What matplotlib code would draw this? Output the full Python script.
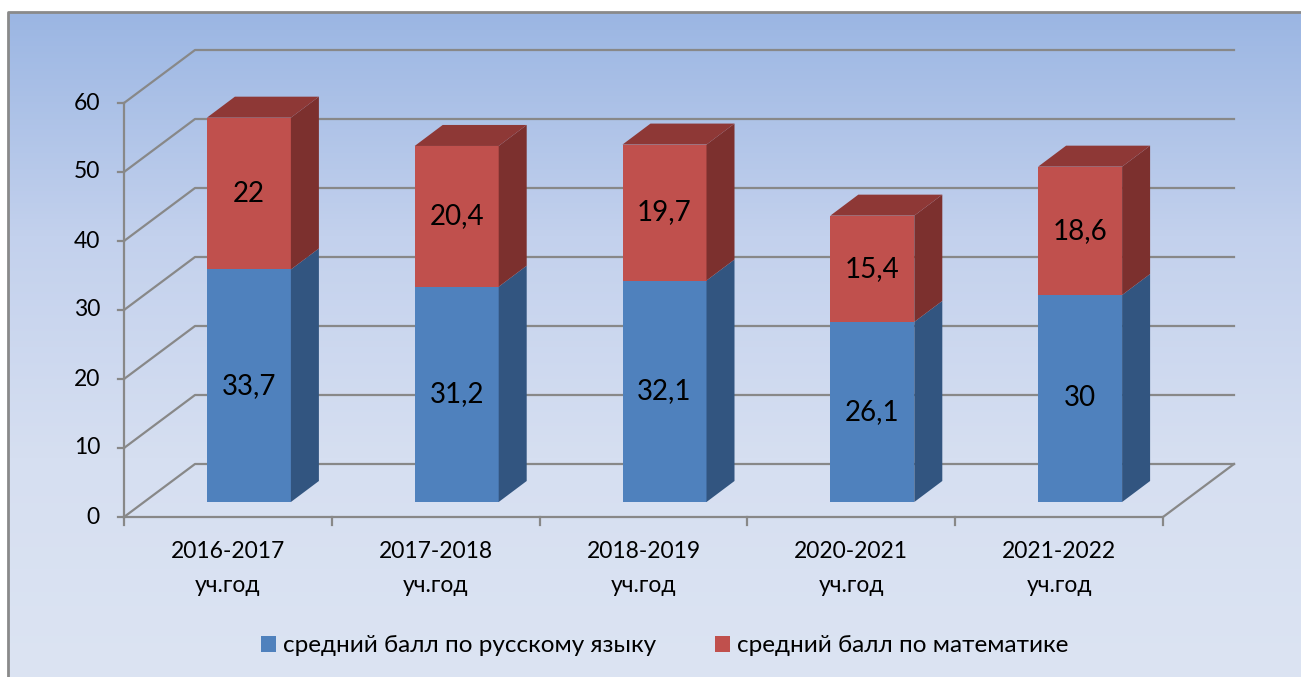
import numpy as np
import matplotlib.pyplot as plt
from matplotlib.patches import Polygon, Rectangle, Patch
from matplotlib.colors import LinearSegmentedColormap

plt.rcParams['font.family'] = ['Lato', 'DejaVu Sans']

years = ["2016-2017", "2017-2018", "2018-2019", "2020-2021", "2021-2022"]
russian = [33.7, 31.2, 32.1, 26.1, 30]
maths = [22, 20.4, 19.7, 15.4, 18.6]
yticks = [0, 10, 20, 30, 40, 50, 60]
series = ["средний балл по русскому языку", "средний балл по математике"]

# figure geometry in pixels
W, H = 1301, 677
X0, Y0 = 124, 517          # front corner of the value axis
CAT, UNIT = 207.8, 6.9      # px per category, px per value unit

fig = plt.figure(figsize=(W / 100, H / 100), dpi=100)
fig.patch.set_facecolor('white')
ax = fig.add_axes([0, 0, 1, 1])
ax.set_xlim(-X0 / CAT, (W - X0) / CAT)
ax.set_ylim(-(H - Y0) / UNIT, Y0 / UNIT)
ax.axis('off')


def px(x, y):
    return (x - X0) / CAT, (Y0 - y) / UNIT


# background box with gradient (dark at top)
cmap = LinearSegmentedColormap.from_list(
    'bg', ['#9bb6e3', '#c3d1ed', '#d6dff1', '#dce4f3'])
grad = np.linspace(0, 1, 256).reshape(-1, 1)
bx0, by0 = px(8, 12)
bx1, by1 = px(W + 5, H + 5)
ax.imshow(grad, cmap=cmap, extent=(bx0, bx1, by1, by0), aspect='auto', zorder=0)
ax.plot([bx0, bx0, bx1], [by1, by0, by0], color='#8a8a8a', lw=2, zorder=1)

# 3d depth
n = len(years)
DX, DY = 71 / CAT, 53 / UNIT
grid = '#888888'
glw = 1.6

for v in yticks:
    ax.plot([0, DX, n + DX], [v, v + DY, v + DY], color=grid, lw=glw, zorder=2)
    ax.plot([-6 / CAT, 0], [v, v], color=grid, lw=glw, zorder=2)
    ax.text(-24 / CAT, v, str(v), ha='right', va='center', fontsize=16.5, color='black')

# floor
ax.plot([0, n, n + DX], [0, 0, DY], color=grid, lw=glw, zorder=2)
ax.plot([0, 0], [0, yticks[-1]], color=grid, lw=glw, zorder=2)
for i in range(n + 1):
    ax.plot([i, i], [0, -8 / UNIT], color=grid, lw=glw, zorder=2)

# bars
FX, FY = 21 / CAT, 15 / UNIT
BX, BY = 28 / CAT, 21 / UNIT
BW = 84 / CAT
cols = [('#4f81bd', '#325580', '#3d6496'), ('#c0504d', '#7c302e', '#8e3836')]


def fmt(v):
    return ('%g' % v).replace('.', ',')


for i in range(n):
    xc = i + 0.5 + FX
    left, right = xc - BW / 2, xc + BW / 2
    y0 = FY
    vals = [russian[i], maths[i]]
    for k, v in enumerate(vals):
        y1 = y0 + v
        front, side, top = cols[k]
        ax.add_patch(Rectangle((left, y0), BW, v, facecolor=front, edgecolor='none', zorder=3))
        ax.add_patch(Polygon([(right, y0), (right + BX, y0 + BY), (right + BX, y1 + BY), (right, y1)],
                             facecolor=side, edgecolor='none', zorder=3))
        if k == len(vals) - 1:
            ax.add_patch(Polygon([(left, y1), (left + BX, y1 + BY), (right + BX, y1 + BY), (right, y1)],
                                 facecolor=top, edgecolor='none', zorder=3))
        ax.text(xc, y0 + v / 2, fmt(v), ha='center', va='center', fontsize=20, color='black', zorder=4)
        y0 = y1

    ax.text(i + 0.5, -35 / UNIT, years[i], ha='center', va='center', fontsize=16.5)
    ax.text(i + 0.5, -68 / UNIT, "уч.год", ha='center', va='center', fontsize=16.5)

handles = [Patch(facecolor=cols[0][0]), Patch(facecolor=cols[1][0])]
fig.legend(handles, series, loc='center', bbox_to_anchor=(0.511, 1 - 646 / H), ncol=2,
           frameon=False, fontsize=17.5, handlelength=0.62, handleheight=0.62,
           handletextpad=0.3, columnspacing=2.4)

fig.savefig('out.png', dpi=100)
